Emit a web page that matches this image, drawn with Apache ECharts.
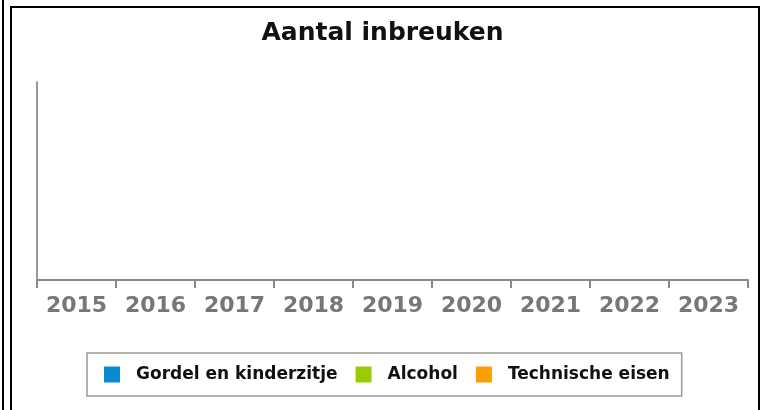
<!DOCTYPE html>
<html>
<head>
<meta charset="utf-8">
<script src="https://cdn.jsdelivr.net/npm/echarts@6/dist/echarts.min.js"></script>
<style>
  html, body { margin: 0; padding: 0; background: #fff; }
  #main { width: 765px; height: 410px; }
</style>
</head>
<body>
<div id="main"></div>
<script>
// jaren op de x-as
var years = ['2015', '2016', '2017', '2018', '2019', '2020', '2021', '2022', '2023'];

// aantallen per soort inbreuk (grafiek is leeg: niets zichtbaar)
var gordel = [0, 0, 0, 0, 0, 0, 0, 0, 0];
var alcohol = [0, 0, 0, 0, 0, 0, 0, 0, 0];
var technisch = [0, 0, 0, 0, 0, 0, 0, 0, 0];

var seriesNames = ['Gordel en kinderzitje', 'Alcohol', 'Technische eisen'];
var seriesColors = ['#0a8ad4', '#99cc00', '#f7a000'];

var myChart = echarts.init(document.getElementById('main'));

var font = 'DejaVu Sans';

myChart.setOption({
  animation: false,
  color: seriesColors,
  title: {
    text: 'Aantal inbreuken',
    left: 'center',
    top: 21,
    padding: 0,
    textStyle: { fontFamily: font, fontSize: 25, fontWeight: 'bold', color: '#111' }
  },
  legend: {
    left: 87,
    top: 353,
    padding: [13, 12, 13, 17],
    borderColor: '#999',
    borderWidth: 1.5,
    borderRadius: 0,
    itemWidth: 16,
    itemHeight: 16,
    itemGap: 18,
    icon: 'rect',
    textStyle: { fontFamily: font, fontSize: 17, fontWeight: 'bold', color: '#111', padding: [0, 0, 0, 11] },
    data: seriesNames
  },
  grid: { left: 37, right: 17, top: 82, bottom: 130 },
  xAxis: {
    type: 'category',
    data: years,
    axisLine: { lineStyle: { color: '#888', width: 2 } },
    axisTick: { show: true, interval: 0, length: 8, lineStyle: { color: '#888', width: 2 } },
    axisLabel: { interval: 0, fontFamily: font, fontSize: 22, fontWeight: 'bold', color: '#777', margin: 15 }
  },
  yAxis: {
    type: 'value',
    axisLine: { show: true, lineStyle: { color: '#999', width: 2 } },
    axisTick: { show: false },
    axisLabel: { show: false },
    splitLine: { show: false }
  },
  series: [
    { name: seriesNames[0], type: 'bar', data: gordel },
    { name: seriesNames[1], type: 'bar', data: alcohol },
    { name: seriesNames[2], type: 'bar', data: technisch }
  ],
  graphic: [
    // kaderlijnen van de pagina rond de grafiek
    { type: 'line', shape: { x1: 3, y1: 0, x2: 3, y2: 410 }, style: { stroke: '#000', lineWidth: 2 } },
    { type: 'line', shape: { x1: 11, y1: 7, x2: 11, y2: 410 }, style: { stroke: '#000', lineWidth: 2 } },
    { type: 'line', shape: { x1: 10, y1: 7, x2: 760, y2: 7 }, style: { stroke: '#000', lineWidth: 2 } },
    { type: 'line', shape: { x1: 759, y1: 7, x2: 759, y2: 410 }, style: { stroke: '#000', lineWidth: 2 } }
  ]
});
</script>
</body>
</html>
